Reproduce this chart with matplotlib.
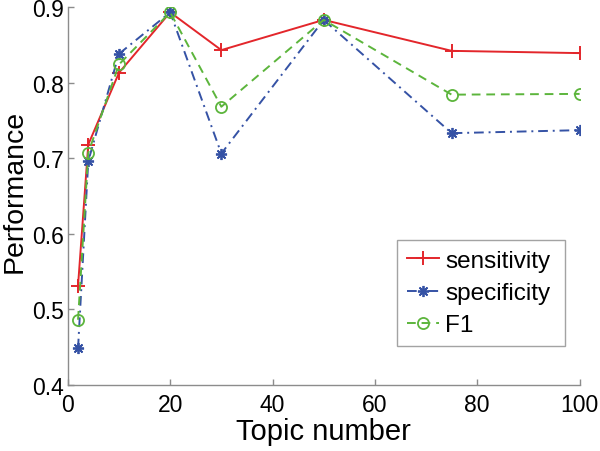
import matplotlib
matplotlib.use("Agg")
import matplotlib.pyplot as plt

topics = [2, 4, 10, 20, 30, 50, 75, 100]
sensitivity = [0.531, 0.718, 0.813, 0.893, 0.843, 0.883, 0.842, 0.839]
specificity = [0.448, 0.696, 0.838, 0.893, 0.706, 0.883, 0.733, 0.737]
f1 = [0.486, 0.707, 0.824, 0.893, 0.768, 0.883, 0.784, 0.785]
xticks = [0, 20, 40, 60, 80, 100]
yticks = [0.4, 0.5, 0.6, 0.7, 0.8, 0.9]

plt.rcParams['font.family'] = ['Liberation Sans', 'DejaVu Sans']

fig = plt.figure(figsize=(6, 4.52), dpi=100)
ax = fig.add_axes([0.113, 0.1467, 0.853, 0.8355])

red = '#e3262b'
blue = '#3552a5'
green = '#5cb53c'

ax.plot(topics, sensitivity, color=red, linestyle='-', linewidth=1.4,
        marker='+', markersize=10, markeredgewidth=1.4, label='sensitivity')
ax.plot(topics, specificity, color=blue, linestyle=(0, (5, 2.5, 1, 2.5)), linewidth=1.4,
        marker=(8, 2, 0), markersize=8, markeredgewidth=1.3, label='specificity')
ax.plot(topics, f1, color=green, linestyle=(0, (4.5, 3)), linewidth=1.4,
        marker='o', markersize=8, markerfacecolor='none', markeredgewidth=1.3,
        label='F1')

ax.set_xlim(0, 100)
ax.set_ylim(0.4, 0.9)
ax.set_xticks(xticks)
ax.set_yticks(yticks)
ax.set_xticklabels([str(v) for v in xticks])
ax.set_yticklabels([f"{v:.1f}" for v in yticks])

for s in ['top', 'right']:
    ax.spines[s].set_visible(False)
for s in ['left', 'bottom']:
    ax.spines[s].set_color('#8c8c8c')
    ax.spines[s].set_linewidth(1.0)
ax.tick_params(direction='in', length=4, width=1.0, color='#8c8c8c',
               labelsize=16.5, labelcolor='black')
ax.tick_params(axis='x', pad=6)
ax.tick_params(axis='y', pad=3)

ax.set_xlabel('Topic number', fontsize=21, labelpad=1)
ax.set_ylabel('Performance', fontsize=20.5)
ax.yaxis.set_label_coords(-0.078, 0.515)

leg = ax.legend(loc='lower left', bbox_to_anchor=(0.643, 0.1025, 0.329, 0.284),
                mode='expand', fontsize=17.5, frameon=True, fancybox=False,
                edgecolor='#8c8c8c', handlelength=1.35, handletextpad=0.25,
                borderaxespad=0, borderpad=0.4, labelspacing=0.42)
leg.get_frame().set_linewidth(1.0)

fig.savefig('out.png', dpi=100)
